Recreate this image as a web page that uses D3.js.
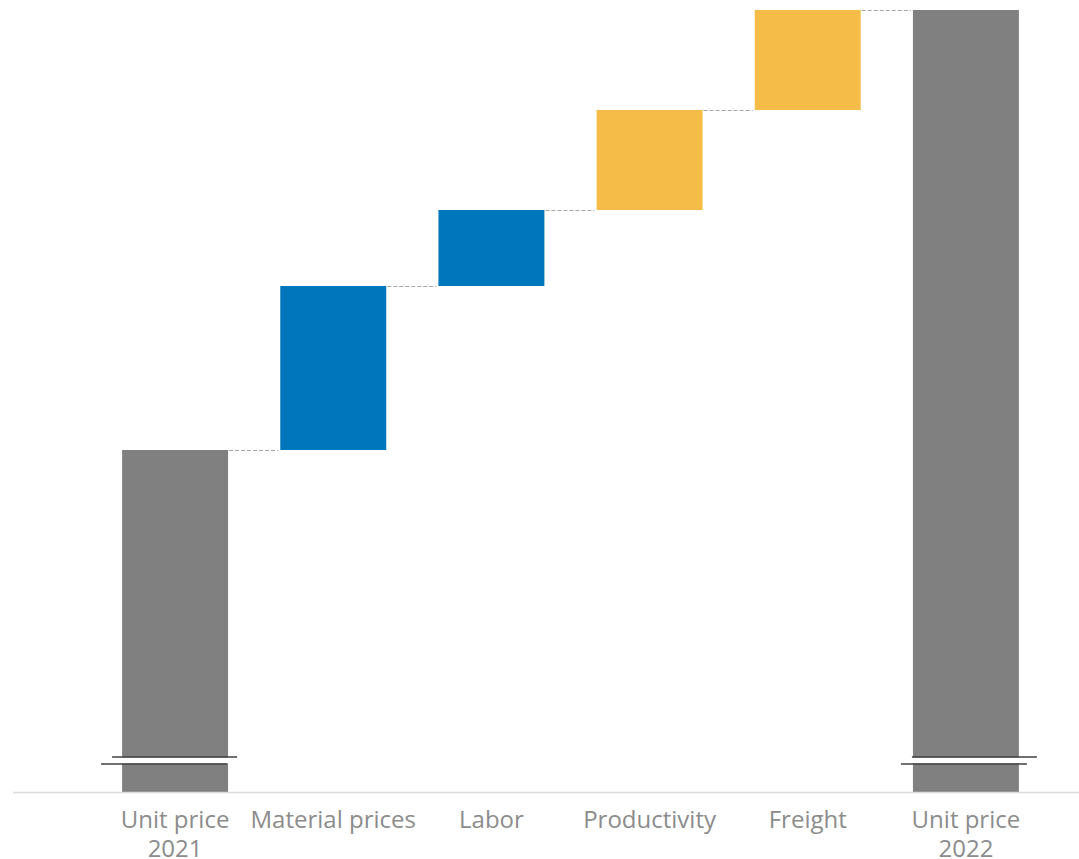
<!DOCTYPE html>
<html>
<head>
<meta charset="utf-8">
<script src="https://cdn.jsdelivr.net/npm/d3@7"></script>
<style>
  html, body { margin: 0; padding: 0; background: #fff; }
  svg { display: block; }
  text { font-family: "Open Sans", sans-serif; }
</style>
</head>
<body>
<svg id="chart" width="1079" height="859"></svg>
<script>
// Unit price bridge, 2021 → 2022 (price index, 2021 = 100)
const categories = ["Unit price\n2021", "Material prices", "Labor", "Productivity", "Freight", "Unit price\n2022"];
const kinds = ["total", "delta", "delta", "delta", "delta", "total"];
const values = [100, 8.2, 3.8, 5.0, 5.0, 122];
const groups = ["total", "cost", "cost", "efficiency", "efficiency", "total"];
const axisFloor = 82.9;   // value hidden by the axis break
const axisTop = 122;

const colors = { total: "#808080", cost: "#0077bc", efficiency: "#f5bc48" };

const svg = d3.select("#chart");
const W = 1079, H = 859;
const baseY = 792, topY = 10;

const x = d3.scaleBand()
  .domain(categories)
  .range([96, 1045])
  .paddingInner(0.33)
  .paddingOuter(0.165);

const y = d3.scaleLinear()
  .domain([axisFloor, axisTop])
  .range([baseY, topY]);

// build floating segments
let running = 0;
const bars = categories.map((c, i) => {
  let lo, hi;
  if (kinds[i] === "total") {
    lo = axisFloor; hi = values[i]; running = values[i];
  } else {
    lo = running; hi = running + values[i]; running = hi;
  }
  return { cat: c, lo, hi, group: groups[i], end: hi, idx: i };
});

// bars
svg.append("g").selectAll("rect")
  .data(bars)
  .join("rect")
  .attr("x", d => x(d.cat))
  .attr("width", x.bandwidth())
  .attr("y", d => y(d.hi))
  .attr("height", d => y(d.lo) - y(d.hi))
  .attr("fill", d => colors[d.group]);

// dashed connectors between consecutive bars
const links = bars.slice(0, -1).map((d, i) => ({ from: d, to: bars[i + 1] }));
svg.append("g").selectAll("line")
  .data(links)
  .join("line")
  .attr("x1", d => x(d.from.cat) + x.bandwidth() + 1)
  .attr("x2", d => x(d.to.cat) - 2)
  .attr("y1", d => Math.round(y(d.from.end)) + 0.5)
  .attr("y2", d => Math.round(y(d.from.end)) + 0.5)
  .attr("stroke", "#a6a6a6")
  .attr("stroke-width", 1)
  .attr("stroke-dasharray", "4,2");

// baseline
svg.append("line")
  .attr("x1", 13).attr("x2", W)
  .attr("y1", baseY + 0.5).attr("y2", baseY + 0.5)
  .attr("stroke", "#dcdcdc")
  .attr("stroke-width", 1.5);

// axis-break marks on the total bars (the closing bar's mark sits a little further right)
const breakY = 760;
const breakShift = d => (d.idx === 0 ? 0 : 9);
const breaks = svg.append("g").selectAll("g")
  .data(bars.filter(d => d.group === "total"))
  .join("g");
breaks.append("rect")
  .attr("x", d => x(d.cat) - 2)
  .attr("width", x.bandwidth() + 4)
  .attr("y", breakY - 2.5)
  .attr("height", 6)
  .attr("fill", "#fff");
breaks.append("line")
  .attr("x1", d => x(d.cat) - 10 + breakShift(d))
  .attr("x2", d => x(d.cat) + x.bandwidth() + 9 + breakShift(d))
  .attr("y1", breakY - 3).attr("y2", breakY - 3)
  .attr("stroke", "#404040").attr("stroke-width", 1.6);
breaks.append("line")
  .attr("x1", d => x(d.cat) - 21 + breakShift(d))
  .attr("x2", d => x(d.cat) + x.bandwidth() - 1 + breakShift(d))
  .attr("y1", breakY + 4).attr("y2", breakY + 4)
  .attr("stroke", "#404040").attr("stroke-width", 1.6);

// category labels
const labels = svg.append("g").selectAll("text")
  .data(categories)
  .join("text")
  .attr("x", d => x(d) + x.bandwidth() / 2)
  .attr("y", 828)
  .attr("text-anchor", "middle")
  .attr("fill", "#8c8c8c")
  .attr("font-size", 24);
labels.selectAll("tspan")
  .data(d => d.split("\n").map((t, i) => ({ t, i, c: d })))
  .join("tspan")
  .attr("x", d => x(d.c) + x.bandwidth() / 2)
  .attr("dy", d => d.i === 0 ? 0 : 29)
  .text(d => d.t);
</script>
</body>
</html>
